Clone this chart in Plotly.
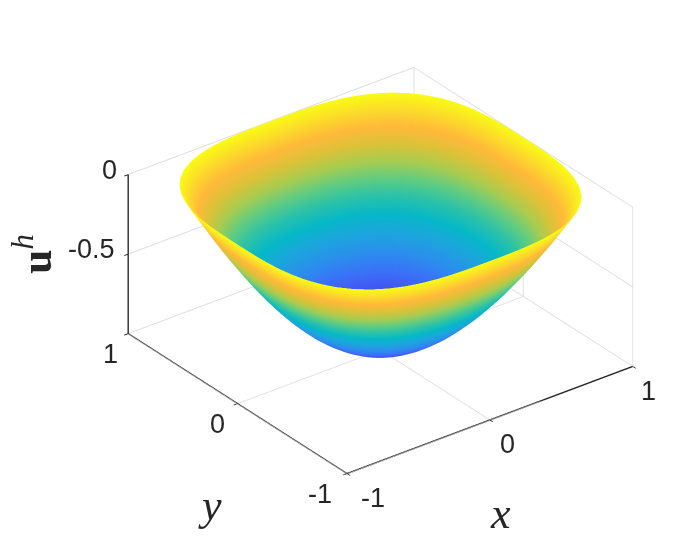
"""Rounded bowl surface u^h over x, y."""
import numpy as np
import plotly.graph_objects as go

# rim radius read every 5 degrees from 0 to 45, mirrored for the rest of the circle
rim_octant = [1.0, 1.0036, 1.0136, 1.0288, 1.0475, 1.0684, 1.0889, 1.1063, 1.1181, 1.1225]
# level curves are round near the bottom and take the rim shape towards the top
round_radius = 1.05
# ring position (fraction of rim radius), how much of the rim shape it has, depth on that ring
ring_fraction = [0, .05, .1, .15, .2, .25, .3, .35, .4, .45, .5, .55, .6, .65, .7, .75, .8, .85, .9, .95, 1]
ring_squareness = [0, 0, .01, .02, .04, .06, .09, .12, .16, .2, .25, .3, .36, .42, .49, .56, .64, .72, .81, .9, 1]
ring_depth = [-.96, -.958, -.95, -.938, -.922, -.90, -.874, -.842, -.806, -.766, -.72, -.67, -.615, -.554,
              -.49, -.42, -.346, -.266, -.182, -.094, 0]

x_ticks = [-1, 0, 1]
y_ticks = [-1, 0, 1]
z_ticks = [-1, -0.5, 0]
x_tick_labels = ["-1", "0", "1"]
y_tick_labels = ["-1", "0", "1"]
z_tick_labels = ["", "-0.5", "0"]

parula = [
    [0.00, "#3e26a8"], [0.06, "#4435d6"], [0.12, "#4450f0"], [0.20, "#3a72f8"], [0.28, "#2a90ec"],
    [0.36, "#1ba6dc"], [0.44, "#06b8c8"], [0.52, "#2cc2a8"], [0.60, "#62cc80"], [0.68, "#a8cc50"],
    [0.76, "#dcc238"], [0.84, "#ffb93a"], [0.92, "#fbdc2a"], [1.00, "#f9fb15"],
]

# one quadrant: 0..45 then mirrored 45..90
quadrant = rim_octant + rim_octant[-2::-1]
rim = []
for _ in range(4):
    rim += quadrant[:-1]
rim.append(rim[0])
theta = np.radians(np.arange(len(rim)) * 5.0)

rim = np.array(rim)
frac = np.array(ring_fraction)
square = np.array(ring_squareness)
radius = np.outer(frac, np.ones(len(rim))) * (round_radius + np.outer(square, rim - round_radius))
xs = radius * np.cos(theta)
ys = radius * np.sin(theta)
zs = np.outer(np.array(ring_depth), np.ones(len(rim)))

fig = go.Figure()
fig.add_trace(go.Surface(
    x=xs, y=ys, z=zs, surfacecolor=zs, colorscale=parula, cmin=-0.96, cmax=0, showscale=False,
    lighting={"ambient": 1, "diffuse": 0, "specular": 0, "roughness": 1, "fresnel": 0},
    hoverinfo="skip",
))

tick_font = {"family": "Liberation Sans", "size": 27, "color": "#262626"}
title_font = {"family": "Liberation Serif", "size": 44, "color": "#262626"}
axis_common = {
    "showbackground": False, "showgrid": True, "gridcolor": "#dcdcdc", "gridwidth": 2,
    "showline": True, "linecolor": "#262626", "linewidth": 3, "zeroline": False,
    "ticks": "outside", "ticklen": 5, "tickcolor": "#262626", "tickwidth": 2, "showticklabels": False,
    "showspikes": False, "title": {"text": ""},
}


def tick_note(x, y, z, text, dx, dy):
    return {"x": x, "y": y, "z": z, "text": text, "showarrow": False, "xshift": dx, "yshift": dy,
            "xanchor": "center", "yanchor": "middle", "font": tick_font}


notes = []
for v, label, dx in zip(x_ticks, x_tick_labels, [26, 18, 16]):
    notes.append(tick_note(v, -1, -1, label, dx, -24))
for v, label, dx in zip(y_ticks, y_tick_labels, [-27, -20, -18]):
    notes.append(tick_note(-1, v, -1, label, dx, -20))
for v, label, dx in zip(z_ticks, z_tick_labels, [0, -37, -19]):
    if label:
        notes.append(tick_note(-1, 1, v, label, dx, 5))

fig.update_layout(
    width=698, height=559, paper_bgcolor="white",
    margin={"l": 0, "r": 0, "t": 0, "b": 0},
    scene={
        "domain": {"x": [0.067, 1], "y": [0.06, 1]},
        "aspectmode": "manual", "aspectratio": {"x": 1.371, "y": 1.371, "z": 0.695},
        "camera": {"projection": {"type": "orthographic"},
                   "eye": {"x": -0.631, "y": -0.824, "z": 0.583},
                   "center": {"x": 0, "y": 0, "z": 0}, "up": {"x": 0, "y": 0, "z": 1}},
        "xaxis": {**axis_common, "range": [-1, 1], "tickvals": x_ticks, "ticktext": x_tick_labels},
        "yaxis": {**axis_common, "range": [-1, 1], "tickvals": y_ticks, "ticktext": y_tick_labels},
        "zaxis": {**axis_common, "range": [-1, 0], "tickvals": z_ticks, "ticktext": z_tick_labels},
        "annotations": notes,
    },
    annotations=[
        {"text": "<i>x</i>", "x": 492 / 698, "y": 1 - 505 / 559, "xref": "paper", "yref": "paper", "showarrow": False,
         "xanchor": "center", "yanchor": "middle", "font": title_font},
        {"text": "<i>y</i>", "x": 202 / 698, "y": 1 - 497 / 559, "xref": "paper", "yref": "paper", "showarrow": False,
         "xanchor": "center", "yanchor": "middle", "font": title_font},
        {"text": "<b>u</b><sup><i>h</i></sup>", "x": 25 / 698, "y": 1 - 246 / 559, "xref": "paper", "yref": "paper",
         "showarrow": False, "textangle": -90, "xanchor": "center", "yanchor": "middle", "font": title_font},
    ],
)

fig.write_html("out.html", config={"displayModeBar": False})
